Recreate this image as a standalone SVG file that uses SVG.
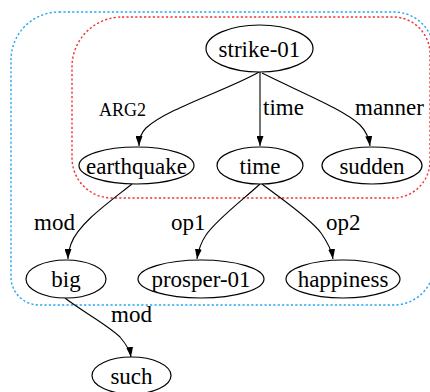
<svg xmlns="http://www.w3.org/2000/svg" width="430" height="392" viewBox="0 0 430 392">
<defs>
<style>
.n ellipse{fill:#fff;stroke:#000;stroke-width:1.2}
text{font-family:'Times New Roman',serif;font-size:23px;fill:#000}
.n text{text-anchor:middle}
.e path{fill:none;stroke:#000;stroke-width:1.1;marker-end:url(#ah)}
.box{fill:none;stroke-width:1.4;stroke-dasharray:2.2,2.2}
</style>
<marker id="ah" viewBox="0 0 10 7" refX="10" refY="3.5" markerWidth="10" markerHeight="7" markerUnits="userSpaceOnUse" orient="auto">
<path d="M0,0 L10,3.5 L0,7 Z" fill="#000"/>
</marker>
</defs>
<g id="clusters">
<path class="box" stroke="#22a6f5" d="M59,12 H394 A40,40 0 0 1 434,52 V265 A40,40 0 0 1 394,305 H39 A28,28 0 0 1 11,277 V60 A48,48 0 0 1 59,12 Z"/>
<path class="box" stroke="#f33333" d="M122,17 H393 A37,37 0 0 1 430,54 V161 A37,37 0 0 1 393,198 H112 A40,40 0 0 1 72,158 V67 A50,50 0 0 1 122,17 Z"/>
</g>
<g id="edges" class="e">
<path d="M259,72 C228,90 168,108 146,128 C141,133 139,140 139,146"/>
<path d="M260,72 V146"/>
<path d="M262,73 C300,92 345,110 360,125 C366,131 369,138 370,146"/>
<path d="M132,184 C108,203 78,224 71,244 C69,250 68,254 68,259"/>
<path d="M260,184 C245,198 216,220 206,235 C200,244 198,252 197,259"/>
<path d="M262,184 C280,198 310,218 321,233 C328,243 332,252 333,259"/>
<path d="M65,298 C80,310 108,325 120,337 C126,344 130,350 131,357"/>
</g>
<g id="edge-labels">
<text x="99" y="116" style="font-size:18px">ARG2</text>
<text x="263" y="115">time</text>
<text x="355" y="115">manner</text>
<text x="34" y="230">mod</text>
<text x="171" y="230">op1</text>
<text x="326" y="230">op2</text>
<text x="111" y="322">mod</text>
</g>
<g id="strike-01" class="n"><ellipse cx="259.5" cy="48.5" rx="53.5" ry="23.5"/><text x="259.5" y="57">strike-01</text></g>
<g id="earthquake" class="n"><ellipse cx="136.5" cy="165.5" rx="57.5" ry="18.5"/><text x="136.5" y="173.5">earthquake</text></g>
<g id="time" class="n"><ellipse cx="260" cy="165.5" rx="43" ry="18.5"/><text x="260" y="173.5">time</text></g>
<g id="sudden" class="n"><ellipse cx="372" cy="165.5" rx="50" ry="18.5"/><text x="372" y="173.5">sudden</text></g>
<g id="big" class="n"><ellipse cx="66" cy="279" rx="40" ry="19"/><text x="66" y="287">big</text></g>
<g id="prosper-01" class="n"><ellipse cx="201" cy="279" rx="63" ry="19"/><text x="201" y="287">prosper-01</text></g>
<g id="happiness" class="n"><ellipse cx="343" cy="279" rx="57" ry="19"/><text x="343" y="287">happiness</text></g>
<g id="such" class="n"><ellipse cx="131.5" cy="375.5" rx="39.5" ry="18.5"/><text x="131.5" y="383.5">such</text></g>
</svg>
